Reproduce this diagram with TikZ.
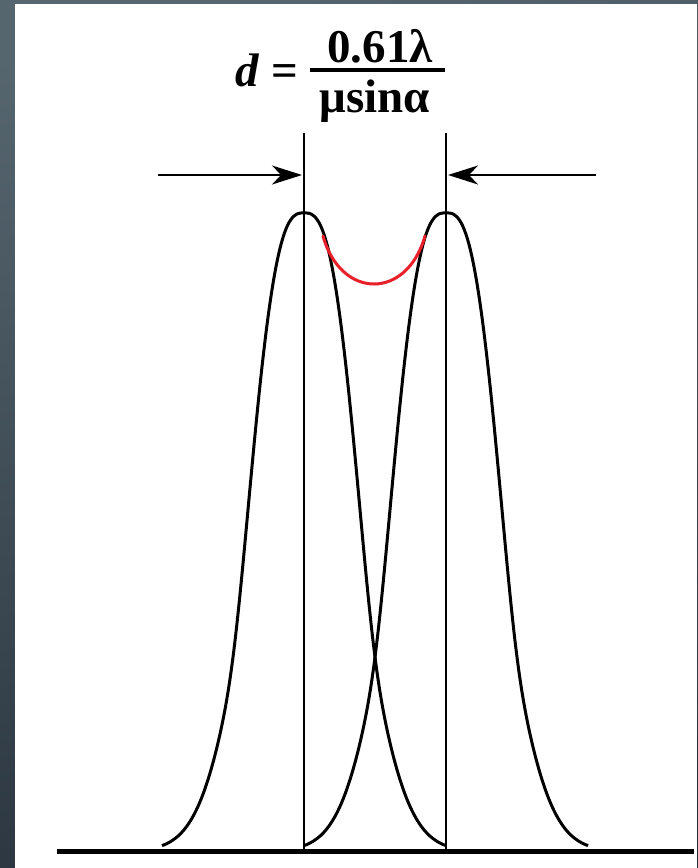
\documentclass[tikz,border=0pt]{standalone}
\usepackage{fontspec}
\setmainfont{Liberation Serif}
\usetikzlibrary{arrows.meta}
\definecolor{bgtop}{HTML}{56666F}
\definecolor{bgbot}{HTML}{26303A}
\definecolor{peakred}{HTML}{E8202A}
\tikzset{
  declare function={
    proftop(\t)=exp(-exp(2.8*ln(max(abs(\t),0.01)/66.7)));
    proftail(\t)=exp(-0.5*(\t/46)^2);
    profw(\t)=1/(1+exp(max(min((abs(\t)-71)/7,8),-8)));
    prof(\t)=profw(\t)*proftop(\t)+(1-profw(\t))*proftail(\t);},
  curve/.style={line width=3pt, black, line join=round},
  guide/.style={line width=1.2pt, black},
  arr/.style={line width=1.5pt, -{Stealth[length=30pt,width=19pt,inset=9pt]}},
  base/.style={line width=5pt, black},
  formula/.style={inner sep=0pt, font=\fontsize{47}{50}\selectfont\bfseries}
}
\begin{document}
\begin{tikzpicture}[x=1pt,y=-1pt]
\useasboundingbox (0,0) rectangle (697,868);
\shade[top color=bgtop, bottom color=bgbot, shading angle=15] (-40,-40) rectangle (737,908);
\fill[white] (15,4) rectangle (697,868);
% coordinates
\coordinate (topL) at (304,133);
\coordinate (topR) at (446,133);
\coordinate (botL) at (304,851);
\coordinate (botR) at (446,851);
\coordinate (arrLs) at (158,175);
\coordinate (arrLe) at (302,175);
\coordinate (arrRs) at (596,175);
\coordinate (arrRe) at (448,175);
\coordinate (baseS) at (57,851);
\coordinate (baseE) at (694,851);
\coordinate (redS) at (323,236);
\coordinate (redE) at (425,236);
% guide lines
\draw[guide] (topL) -- (botL);
\draw[guide] (topR) -- (botR);
% arrows
\draw[arr] (arrLs) -- (arrLe);
\draw[arr] (arrRs) -- (arrRe);
% profiles
\draw[curve] plot[domain=162:446, samples=240, smooth] (\x, {851-638*prof(\x-304)});
\draw[curve] plot[domain=304:588, samples=240, smooth] (\x, {851-638*prof(\x-446)});
% red dip
\draw[line width=3pt, peakred, line cap=round] (redS) .. controls (341,300) and (407,300) .. (redE);
% baseline
\draw[base] (baseS) -- (baseE);
% formula
\node[formula, anchor=base east] (dlab) at (298,86) {\itshape d\upshape\ =};
\node[formula, anchor=base] (num) at (380,62) {0.61λ};
\node[formula, anchor=base] (den) at (375,112) {μsinα};
\draw[line width=3.5pt] (310,70) -- (445,70);
\end{tikzpicture}
\end{document}
